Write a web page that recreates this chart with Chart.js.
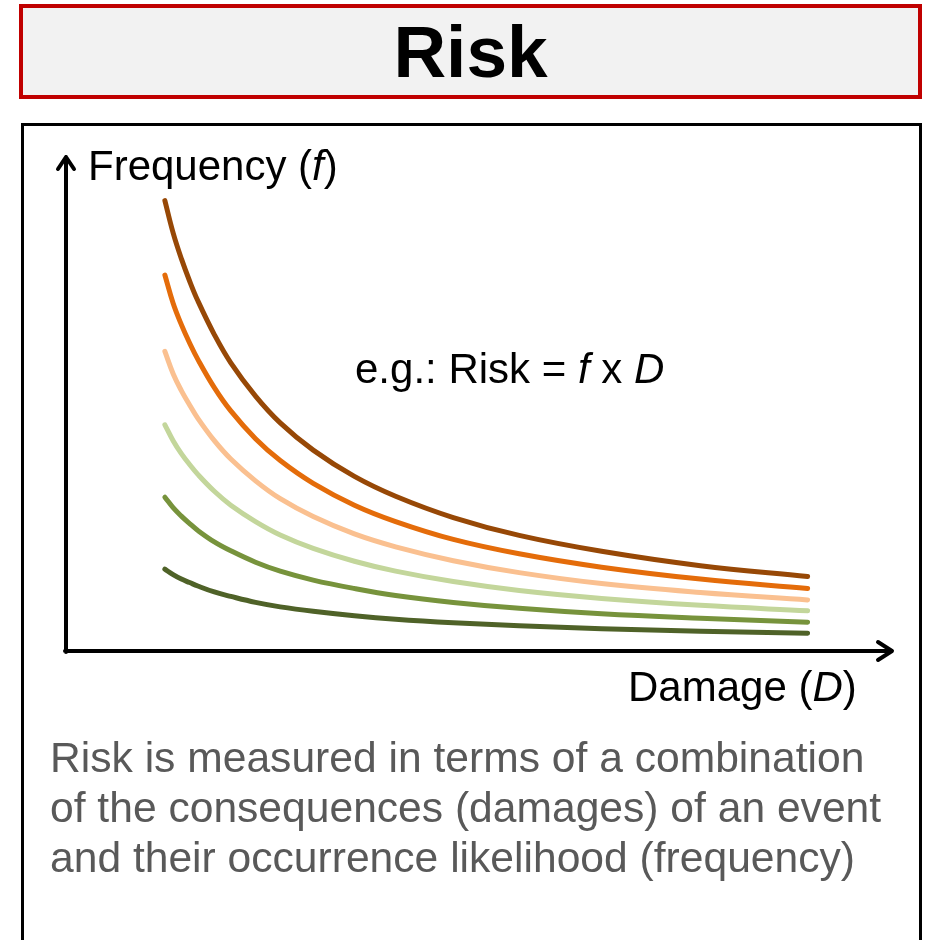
<!DOCTYPE html>
<html>
<head>
<meta charset="utf-8">
<title>Risk</title>
<script src="https://cdn.jsdelivr.net/npm/chart.js@4.4.1/dist/chart.umd.min.js"></script>
<style>
  html, body { margin: 0; padding: 0; background: #fff; overflow: hidden; }
  body { width: 927px; height: 940px; position: relative; font-family: "Liberation Sans", Arial, sans-serif; }
  .header {
    position: absolute; left: 19px; top: 4px; width: 895px; height: 87px;
    background: #f2f2f2; border: 4px solid #c00000;
  }
  .header span {
    position: absolute; left: 0; right: 0; top: 7px; text-align: center;
    font-size: 73px; font-weight: bold; line-height: 73px; color: #000;
  }
  .panel {
    position: absolute; left: 21px; top: 123px; width: 895px; height: 840px;
    border: 3px solid #000;
  }
  #chart { position: absolute; left: 0; top: 0; }
  .lbl {
    position: absolute; white-space: nowrap; font-size: 42px; line-height: 42px; color: #000;
  }
  .desc {
    position: absolute; left: 50px; top: 732px; font-size: 42.6px; line-height: 50px; color: #595959;
    white-space: nowrap;
  }
</style>
</head>
<body>
<div class="header"><span>Risk</span></div>
<div class="panel"></div>
<canvas id="chart" width="927" height="940"></canvas>
<div class="lbl" style="left:88px; top:145px;">Frequency (<i>f</i>)</div>
<div class="lbl" style="left:628px; top:666px;">Damage (<i>D</i>)</div>
<div class="lbl" style="left:355px; top:348px;">e.g.: Risk = <i>f</i> x <i>D</i></div>
<div class="desc">Risk is measured in terms of a combination<br>of the consequences (damages) of an event<br>and their occurrence likelihood (frequency)</div>
<script>
// damage values along the horizontal axis (0..100)
const damage = [12, 13, 14, 15, 16, 18, 20, 23, 26, 30, 35, 40, 47, 55, 65, 77, 90];

// frequency for each iso-risk curve, highest risk first
const riskVeryHigh = [90.8, 84.3, 79.1, 74.6, 70.6, 63.8, 58.1, 51.4, 46.0, 40.5, 35.2, 31.2, 26.9, 23.3, 20.1, 17.2, 15.0];
const riskHigh     = [75.8, 70.1, 65.8, 62.1, 58.8, 53.1, 48.4, 42.8, 38.4, 33.8, 29.4, 26.1, 22.5, 19.6, 16.9, 14.5, 12.6];
const riskElevated = [60.4, 55.9, 52.5, 49.6, 46.9, 42.4, 38.7, 34.3, 30.7, 27.1, 23.6, 21.0, 18.2, 15.8, 13.6, 11.8, 10.3];
const riskMedium   = [45.6, 42.4, 39.8, 37.6, 35.6, 32.2, 29.4, 26.1, 23.4, 20.7, 18.1, 16.1, 14.0, 12.2, 10.6, 9.2, 8.1];
const riskLow      = [31.0, 28.9, 27.2, 25.7, 24.3, 22.0, 20.2, 17.9, 16.1, 14.3, 12.6, 11.2, 9.8, 8.6, 7.5, 6.6, 5.8];
const riskVeryLow  = [16.5, 15.4, 14.5, 13.8, 13.1, 11.9, 11.0, 9.8, 8.9, 8.0, 7.1, 6.4, 5.7, 5.1, 4.5, 4.0, 3.6];

const curves = [riskVeryHigh, riskHigh, riskElevated, riskMedium, riskLow, riskVeryLow];
const colors = ["#974806", "#e46c0a", "#fac090", "#c3d69b", "#77933c", "#4f6228"];

// axes with open arrow heads, drawn from the scales
const axisArrows = {
  id: "axisArrows",
  beforeDatasetsDraw(chart) {
    const ctx = chart.ctx;
    const x0 = chart.scales.x.getPixelForValue(0);
    const y0 = chart.scales.y.getPixelForValue(0);
    const xEnd = chart.scales.x.getPixelForValue(100) + 2;
    const yEnd = chart.scales.y.getPixelForValue(100) + 2;
    ctx.save();
    ctx.strokeStyle = "#000";
    ctx.lineWidth = 4;
    ctx.lineCap = "round";
    ctx.lineJoin = "round";
    ctx.beginPath();
    ctx.moveTo(x0, y0 + 1);
    ctx.lineTo(x0, yEnd);
    ctx.moveTo(x0 - 1, y0);
    ctx.lineTo(xEnd, y0);
    // head on the vertical axis
    ctx.moveTo(x0 - 8, yEnd + 12);
    ctx.lineTo(x0, yEnd);
    ctx.lineTo(x0 + 8, yEnd + 12);
    // head on the horizontal axis
    ctx.moveTo(xEnd - 14, y0 - 9);
    ctx.lineTo(xEnd, y0);
    ctx.lineTo(xEnd - 14, y0 + 9);
    ctx.stroke();
    ctx.restore();
  }
};

new Chart(document.getElementById("chart"), {
  type: "line",
  data: {
    datasets: curves.map((vals, i) => ({
      data: vals.map((f, j) => ({ x: damage[j], y: f })),
      borderColor: colors[i],
      borderWidth: 5,
      borderCapStyle: "round",
      tension: 0.4,
      pointRadius: 0,
      fill: false,
    })),
  },
  options: {
    responsive: false,
    animation: false,
    layout: { padding: { left: 66, right: 37, top: 155, bottom: 289 } },
    scales: {
      x: { type: "linear", min: 0, max: 100, display: false },
      y: { min: 0, max: 100, display: false },
    },
    plugins: {
      legend: { display: false },
      tooltip: { enabled: false },
    },
  },
  plugins: [axisArrows],
});
</script>
</body>
</html>
